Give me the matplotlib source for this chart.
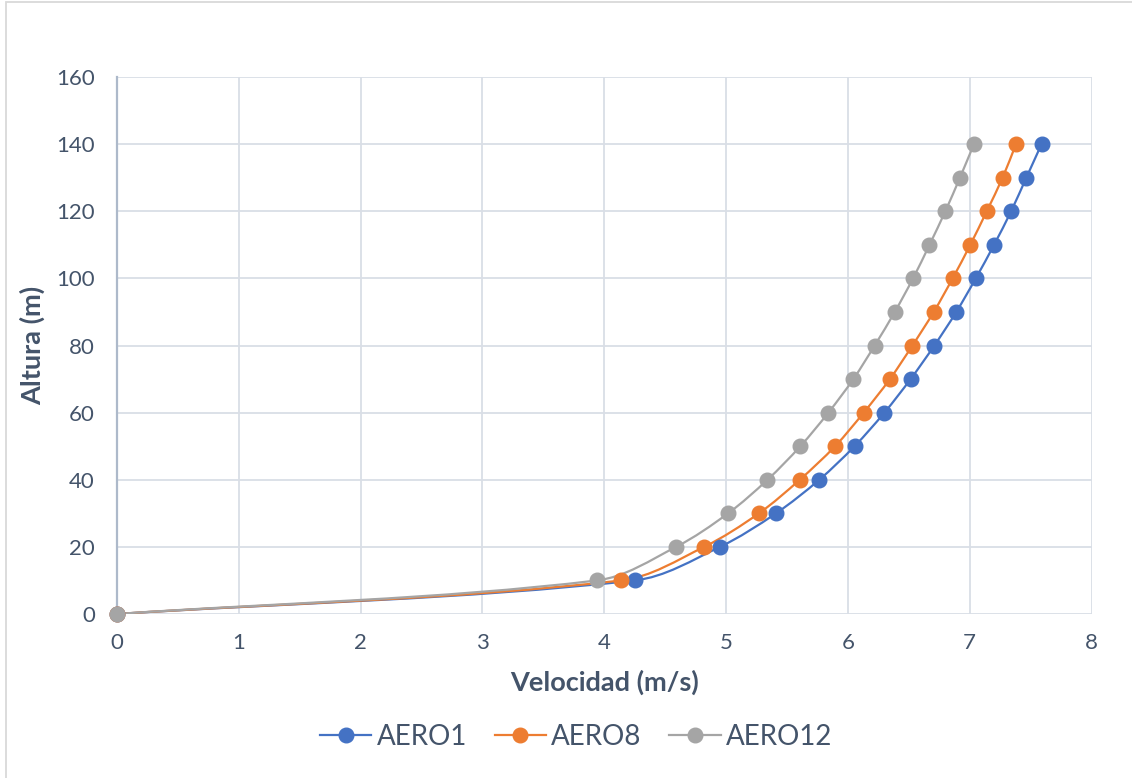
import numpy as np
import matplotlib
matplotlib.use("Agg")
import matplotlib.pyplot as plt
from matplotlib.path import Path
from matplotlib.patches import PathPatch, Rectangle
from matplotlib.lines import Line2D

plt.rcParams['font.family'] = ['Lato', 'DejaVu Sans']

altura = [0, 10, 20, 30, 40, 50, 60, 70, 80, 90, 100, 110, 120, 130, 140]
aero1 = [0, 4.25, 4.95, 5.41, 5.765, 6.055, 6.30, 6.515, 6.71, 6.89, 7.05, 7.20, 7.34, 7.465, 7.59]
aero8 = [0, 4.14, 4.82, 5.27, 5.605, 5.895, 6.13, 6.345, 6.53, 6.705, 6.86, 7.005, 7.14, 7.27, 7.38]
aero12 = [0, 3.94, 4.59, 5.017, 5.34, 5.61, 5.84, 6.045, 6.22, 6.385, 6.535, 6.67, 6.80, 6.92, 7.035]

series = [("AERO1", aero1, "#4472C4"),
          ("AERO8", aero8, "#ED7D31"),
          ("AERO12", aero12, "#A5A5A5")]

text_color = "#44546A"
grid_color = "#D9DEE6"

# axes box in pixels, used to do the curve smoothing in screen proportions
ax_left, ax_right, ax_top, ax_bottom = 117, 1091.5, 77, 614
xmax, ymax = 8, 160
sx = (ax_right - ax_left) / xmax
sy = (ax_bottom - ax_top) / ymax


def smooth_path(xs, ys):
    # cubic bezier through every point; tangent from neighbours,
    # handle length tied to the segment length so nothing overshoots
    pts = np.column_stack([np.asarray(xs) * sx, np.asarray(ys) * sy]).astype(float)
    n = len(pts)

    def tangent(i):
        a = pts[max(i - 1, 0)]
        b = pts[min(i + 1, n - 1)]
        d = b - a
        return d / np.hypot(*d)

    verts = [pts[0]]
    codes = [Path.MOVETO]
    for i in range(n - 1):
        p1, p2 = pts[i], pts[i + 1]
        seg = np.hypot(*(p2 - p1))
        c1 = p1 + tangent(i) * seg / 3.0
        c2 = p2 - tangent(i + 1) * seg / 3.0
        verts += [c1, c2, p2]
        codes += [Path.CURVE4] * 3
    verts = np.array(verts) / [sx, sy]
    return Path(verts, codes)


fig = plt.figure(figsize=(11.32, 7.78), dpi=100)
ax = fig.add_axes([ax_left / 1132, 1 - ax_bottom / 778,
                   (ax_right - ax_left) / 1132, (ax_bottom - ax_top) / 778])

handles = []
for name, vel, color in series:
    patch = PathPatch(smooth_path(vel, altura), facecolor="none", edgecolor=color,
                      lw=1.6, zorder=3, capstyle="round", joinstyle="round")
    ax.add_patch(patch)
    ax.plot(vel, altura, linestyle="none", marker="o", markersize=10.5,
            color=color, zorder=4, clip_on=False)
    handles.append(Line2D([], [], color=color, lw=1.6, marker="o", markersize=10.5))

ax.set_xlim(0, xmax)
ax.set_ylim(0, ymax)
ax.set_xticks(range(0, 9))
ax.set_yticks(range(0, 161, 20))
ax.grid(True, color=grid_color, lw=1.3, zorder=0)
ax.set_axisbelow(True)
for side in ["top", "right", "bottom"]:
    ax.spines[side].set_visible(False)
ax.spines["left"].set_color("#ADB9CA")
ax.spines["left"].set_linewidth(1.6)
ax.tick_params(length=0, labelsize=16, labelcolor=text_color)
ax.tick_params(axis="y", pad=16)
ax.tick_params(axis="x", pad=14)

ax.set_xlabel("Velocidad (m/s)", fontsize=19.5, fontweight="bold", color=text_color, labelpad=12)
ax.set_ylabel("Altura (m)", fontsize=19.5, fontweight="bold", color=text_color, labelpad=8)

fig.legend(handles, [s[0] for s in series], loc="center", bbox_to_anchor=(576 / 1132, 1 - 737 / 778),
           ncol=3, frameon=False, fontsize=20, handlelength=1.85, handletextpad=0.18,
           columnspacing=1.0, labelcolor=text_color)

fig.add_artist(Rectangle((5.5 / 1132, -0.1), 1.2, 1.1 - 2.5 / 778, transform=fig.transFigure,
                         fill=False, edgecolor="#D9D9D9", lw=1.3))

fig.savefig("out.png", dpi=100, facecolor="white")
